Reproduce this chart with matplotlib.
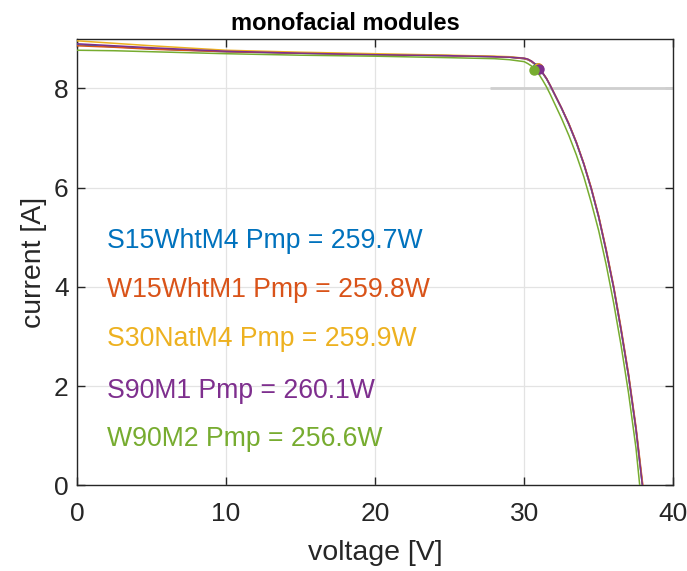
import matplotlib
matplotlib.use("Agg")
import matplotlib.pyplot as plt

plt.rcParams['font.family'] = ['Liberation Sans', 'DejaVu Sans']

names = ["S15WhtM4", "W15WhtM1", "S30NatM4", "S90M1", "W90M2"]
colors = ["#0072BD", "#D95319", "#EDB120", "#7E2F8E", "#77AC30"]
pmp = [259.7, 259.8, 259.9, 260.1, 256.6]

v_grid = [0, 2.5, 5, 10, 15, 20, 25, 28, 29, 30, 30.25, 30.5, 30.75, 31, 31.25,
          31.5, 31.75, 32, 32.5, 33, 33.5, 34, 34.5, 35, 35.5, 36, 36.5, 37, 37.5]

i_s15 = [8.88, 8.84, 8.80, 8.74, 8.71, 8.68, 8.66, 8.64, 8.63, 8.60, 8.58, 8.54, 8.48, 8.40, 8.30,
         8.19, 8.05, 7.90, 7.60, 7.27, 6.90, 6.47, 5.97, 5.40, 4.72, 3.98, 3.12, 2.20, 1.12]
i_w15 = [8.86, 8.83, 8.79, 8.74, 8.71, 8.68, 8.66, 8.64, 8.63, 8.60, 8.58, 8.54, 8.48, 8.40, 8.31,
         8.20, 8.06, 7.91, 7.61, 7.29, 6.92, 6.49, 6.00, 5.43, 4.76, 4.02, 3.17, 2.25, 1.18]
i_s30 = [8.96, 8.91, 8.86, 8.77, 8.73, 8.70, 8.67, 8.65, 8.64, 8.61, 8.59, 8.55, 8.49, 8.41, 8.31,
         8.20, 8.06, 7.91, 7.61, 7.28, 6.91, 6.48, 5.98, 5.41, 4.73, 3.99, 3.13, 2.21, 1.13]
i_s90 = [8.90, 8.86, 8.82, 8.75, 8.71, 8.68, 8.66, 8.64, 8.63, 8.61, 8.59, 8.55, 8.49, 8.41, 8.31,
         8.20, 8.06, 7.91, 7.61, 7.28, 6.91, 6.48, 5.98, 5.41, 4.73, 3.99, 3.13, 2.21, 1.13]
i_w90 = [8.77, 8.76, 8.74, 8.70, 8.67, 8.65, 8.62, 8.60, 8.58, 8.54, 8.50, 8.45, 8.37, 8.28, 8.16,
         8.03, 7.88, 7.72, 7.40, 7.05, 6.66, 6.22, 5.70, 5.13, 4.45, 3.68, 2.82, 1.86, 0.75]
currents = [i_s15, i_w15, i_s30, i_s90, i_w90]
voc = [37.93, 37.96, 37.94, 37.93, 37.75]

vmp = [30.85, 30.90, 30.93, 31.00, 30.68]
imp = [8.418, 8.408, 8.403, 8.390, 8.363]

label_y = [4.78, 3.79, 2.80, 1.77, 0.79]

fig = plt.figure(figsize=(6.87, 5.71), dpi=100)
ax = fig.add_axes([0.112, 0.150, 0.868, 0.782])

for k in range(len(names)):
    ax.plot(v_grid + [voc[k]], currents[k] + [0.0], color=colors[k], lw=1.1, zorder=3)
for k in range(len(names)):
    ax.plot(vmp[k], imp[k], 'o', color=colors[k], ms=6.5, zorder=4)
for k in range(len(names)):
    ax.text(2.0, label_y[k], f"{names[k]} Pmp = {pmp[k]:.1f}W", color=colors[k],
            fontsize=19.2, va='baseline', ha='left', zorder=5)

ax.hlines(8, 27.7, 40, color='#cfcfcf', lw=2.0, zorder=1)

ax.set_xlim(0, 40)
ax.set_ylim(0, 9)
ax.set_xticks([0, 10, 20, 30, 40])
ax.set_yticks([0, 2, 4, 6, 8])
ax.grid(True, color='#e3e3e3', lw=0.9)
ax.set_axisbelow(True)
ax.tick_params(direction='in', top=True, right=True, length=6, width=1.0,
               labelsize=19, colors='#262626', pad=6)
ax.tick_params(axis='x', pad=12)
for s in ax.spines.values():
    s.set_color('#262626')
    s.set_linewidth(1.0)
ax.set_xlabel("voltage [V]", fontsize=20.5, color='#262626', labelpad=10)
ax.set_ylabel("current [A]", fontsize=20.5, color='#262626', labelpad=5)
ax.set_title("monofacial modules", fontsize=17, fontweight='bold', pad=6, x=0.45)

fig.savefig("out.png", dpi=100)
